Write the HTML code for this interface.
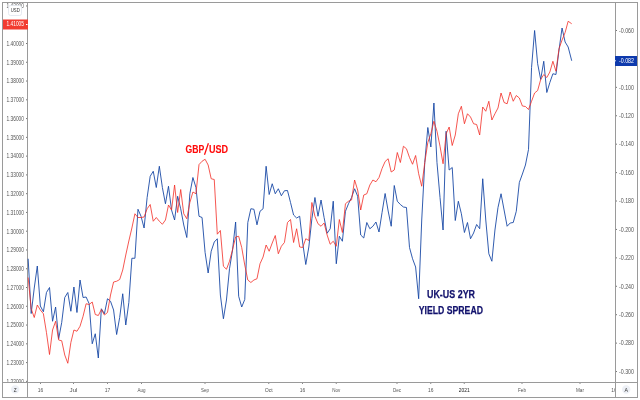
<!DOCTYPE html><html><head><meta charset="utf-8"><title>chart</title>
<style>html,body{margin:0;padding:0;background:#fff;}svg{display:block;will-change:transform}text{font-family:"Liberation Sans",sans-serif;}</style></head><body>
<svg width="640" height="400" viewBox="0 0 640 400">
<rect width="640" height="400" fill="#fff"/>
<text x="6.5" y="8.26" font-size="6.6" fill="#555" textLength="17.5" lengthAdjust="spacingAndGlyphs">1.42000</text>
<rect x="26" y="5.46" width="1" height="1" fill="#777"/>
<text x="6.5" y="27.03" font-size="6.6" fill="#555" textLength="17.5" lengthAdjust="spacingAndGlyphs">1.41000</text>
<rect x="26" y="24.23" width="1" height="1" fill="#777"/>
<text x="6.5" y="45.80" font-size="6.6" fill="#555" textLength="17.5" lengthAdjust="spacingAndGlyphs">1.40000</text>
<rect x="26" y="43.00" width="1" height="1" fill="#777"/>
<text x="6.5" y="64.57" font-size="6.6" fill="#555" textLength="17.5" lengthAdjust="spacingAndGlyphs">1.39000</text>
<rect x="26" y="61.77" width="1" height="1" fill="#777"/>
<text x="6.5" y="83.34" font-size="6.6" fill="#555" textLength="17.5" lengthAdjust="spacingAndGlyphs">1.38000</text>
<rect x="26" y="80.54" width="1" height="1" fill="#777"/>
<text x="6.5" y="102.11" font-size="6.6" fill="#555" textLength="17.5" lengthAdjust="spacingAndGlyphs">1.37000</text>
<rect x="26" y="99.31" width="1" height="1" fill="#777"/>
<text x="6.5" y="120.88" font-size="6.6" fill="#555" textLength="17.5" lengthAdjust="spacingAndGlyphs">1.36000</text>
<rect x="26" y="118.08" width="1" height="1" fill="#777"/>
<text x="6.5" y="139.65" font-size="6.6" fill="#555" textLength="17.5" lengthAdjust="spacingAndGlyphs">1.35000</text>
<rect x="26" y="136.85" width="1" height="1" fill="#777"/>
<text x="6.5" y="158.42" font-size="6.6" fill="#555" textLength="17.5" lengthAdjust="spacingAndGlyphs">1.34000</text>
<rect x="26" y="155.62" width="1" height="1" fill="#777"/>
<text x="6.5" y="177.19" font-size="6.6" fill="#555" textLength="17.5" lengthAdjust="spacingAndGlyphs">1.33000</text>
<rect x="26" y="174.39" width="1" height="1" fill="#777"/>
<text x="6.5" y="195.96" font-size="6.6" fill="#555" textLength="17.5" lengthAdjust="spacingAndGlyphs">1.32000</text>
<rect x="26" y="193.16" width="1" height="1" fill="#777"/>
<text x="6.5" y="214.73" font-size="6.6" fill="#555" textLength="17.5" lengthAdjust="spacingAndGlyphs">1.31000</text>
<rect x="26" y="211.93" width="1" height="1" fill="#777"/>
<text x="6.5" y="233.50" font-size="6.6" fill="#555" textLength="17.5" lengthAdjust="spacingAndGlyphs">1.30000</text>
<rect x="26" y="230.70" width="1" height="1" fill="#777"/>
<text x="6.5" y="252.27" font-size="6.6" fill="#555" textLength="17.5" lengthAdjust="spacingAndGlyphs">1.29000</text>
<rect x="26" y="249.47" width="1" height="1" fill="#777"/>
<text x="6.5" y="271.04" font-size="6.6" fill="#555" textLength="17.5" lengthAdjust="spacingAndGlyphs">1.28000</text>
<rect x="26" y="268.24" width="1" height="1" fill="#777"/>
<text x="6.5" y="289.81" font-size="6.6" fill="#555" textLength="17.5" lengthAdjust="spacingAndGlyphs">1.27000</text>
<rect x="26" y="287.01" width="1" height="1" fill="#777"/>
<text x="6.5" y="308.58" font-size="6.6" fill="#555" textLength="17.5" lengthAdjust="spacingAndGlyphs">1.26000</text>
<rect x="26" y="305.78" width="1" height="1" fill="#777"/>
<text x="6.5" y="327.35" font-size="6.6" fill="#555" textLength="17.5" lengthAdjust="spacingAndGlyphs">1.25000</text>
<rect x="26" y="324.55" width="1" height="1" fill="#777"/>
<text x="6.5" y="346.12" font-size="6.6" fill="#555" textLength="17.5" lengthAdjust="spacingAndGlyphs">1.24000</text>
<rect x="26" y="343.32" width="1" height="1" fill="#777"/>
<text x="6.5" y="364.89" font-size="6.6" fill="#555" textLength="17.5" lengthAdjust="spacingAndGlyphs">1.23000</text>
<rect x="26" y="362.09" width="1" height="1" fill="#777"/>
<text x="6.5" y="383.66" font-size="6.6" fill="#555" textLength="17.5" lengthAdjust="spacingAndGlyphs">1.22000</text>
<rect x="26" y="380.86" width="1" height="1" fill="#777"/>
<text x="619" y="32.80" font-size="6.6" fill="#555" textLength="15" lengthAdjust="spacingAndGlyphs">-0.060</text>
<rect x="616" y="30.00" width="1" height="1" fill="#777"/>
<text x="619" y="61.22" font-size="6.6" fill="#555" textLength="15" lengthAdjust="spacingAndGlyphs">-0.080</text>
<rect x="616" y="58.42" width="1" height="1" fill="#777"/>
<text x="619" y="89.64" font-size="6.6" fill="#555" textLength="15" lengthAdjust="spacingAndGlyphs">-0.100</text>
<rect x="616" y="86.84" width="1" height="1" fill="#777"/>
<text x="619" y="118.06" font-size="6.6" fill="#555" textLength="15" lengthAdjust="spacingAndGlyphs">-0.120</text>
<rect x="616" y="115.26" width="1" height="1" fill="#777"/>
<text x="619" y="146.48" font-size="6.6" fill="#555" textLength="15" lengthAdjust="spacingAndGlyphs">-0.140</text>
<rect x="616" y="143.68" width="1" height="1" fill="#777"/>
<text x="619" y="174.90" font-size="6.6" fill="#555" textLength="15" lengthAdjust="spacingAndGlyphs">-0.160</text>
<rect x="616" y="172.10" width="1" height="1" fill="#777"/>
<text x="619" y="203.32" font-size="6.6" fill="#555" textLength="15" lengthAdjust="spacingAndGlyphs">-0.180</text>
<rect x="616" y="200.52" width="1" height="1" fill="#777"/>
<text x="619" y="231.74" font-size="6.6" fill="#555" textLength="15" lengthAdjust="spacingAndGlyphs">-0.200</text>
<rect x="616" y="228.94" width="1" height="1" fill="#777"/>
<text x="619" y="260.16" font-size="6.6" fill="#555" textLength="15" lengthAdjust="spacingAndGlyphs">-0.220</text>
<rect x="616" y="257.36" width="1" height="1" fill="#777"/>
<text x="619" y="288.58" font-size="6.6" fill="#555" textLength="15" lengthAdjust="spacingAndGlyphs">-0.240</text>
<rect x="616" y="285.78" width="1" height="1" fill="#777"/>
<text x="619" y="317.00" font-size="6.6" fill="#555" textLength="15" lengthAdjust="spacingAndGlyphs">-0.260</text>
<rect x="616" y="314.20" width="1" height="1" fill="#777"/>
<text x="619" y="345.42" font-size="6.6" fill="#555" textLength="15" lengthAdjust="spacingAndGlyphs">-0.280</text>
<rect x="616" y="342.62" width="1" height="1" fill="#777"/>
<text x="619" y="373.84" font-size="6.6" fill="#555" textLength="15" lengthAdjust="spacingAndGlyphs">-0.300</text>
<rect x="616" y="371.04" width="1" height="1" fill="#777"/>
<rect x="3" y="383" width="634" height="14" fill="#fff"/>
<rect x="8.5" y="5.5" width="13" height="10" rx="2" fill="#fff" stroke="#dfe5ee" stroke-width="0.8"/>
<text x="10.8" y="11.8" font-size="5.5" fill="#333" textLength="9" lengthAdjust="spacingAndGlyphs">USD</text>
<g fill="#9a9a9a">
<rect x="2" y="2" width="636" height="1"/>
<rect x="2" y="2" width="1" height="396"/>
<rect x="637" y="2" width="1" height="396"/>
<rect x="2" y="397" width="636" height="1"/>
<rect x="27" y="2" width="1" height="396"/>
<rect x="615" y="2" width="1" height="396"/>
<rect x="2" y="382" width="636" height="1"/>
</g>
<rect x="3" y="19.5" width="25" height="10" fill="#f23b30"/>
<text x="6.5" y="26.4" font-size="6.3" fill="#fff" textLength="17.5" lengthAdjust="spacingAndGlyphs">1.41005</text>
<rect x="26" y="24" width="1.5" height="1" fill="#fff"/>
<rect x="615" y="56" width="22" height="10" fill="#0e3aad"/>
<rect x="614.5" y="60.3" width="1.5" height="1" fill="#dfe6f7"/>
<text x="619" y="63" font-size="6.3" fill="#fff" textLength="15" lengthAdjust="spacingAndGlyphs">-0.082</text>
<text x="37.75" y="392" font-size="6" fill="#555" textLength="5.5" lengthAdjust="spacingAndGlyphs">16</text>
<rect x="40.00" y="383" width="1" height="1" fill="#8a8a8a"/>
<text x="69.50" y="392" font-size="6" fill="#555" textLength="8" lengthAdjust="spacingAndGlyphs">Jul</text>
<rect x="73.00" y="383" width="1" height="1" fill="#8a8a8a"/>
<text x="104.75" y="392" font-size="6" fill="#555" textLength="5.5" lengthAdjust="spacingAndGlyphs">17</text>
<rect x="107.00" y="383" width="1" height="1" fill="#8a8a8a"/>
<text x="137.50" y="392" font-size="6" fill="#555" textLength="8" lengthAdjust="spacingAndGlyphs">Aug</text>
<rect x="141.00" y="383" width="1" height="1" fill="#8a8a8a"/>
<text x="201.00" y="392" font-size="6" fill="#555" textLength="8" lengthAdjust="spacingAndGlyphs">Sep</text>
<rect x="204.50" y="383" width="1" height="1" fill="#8a8a8a"/>
<text x="264.75" y="392" font-size="6" fill="#555" textLength="8" lengthAdjust="spacingAndGlyphs">Oct</text>
<rect x="268.25" y="383" width="1" height="1" fill="#8a8a8a"/>
<text x="299.75" y="392" font-size="6" fill="#555" textLength="5.5" lengthAdjust="spacingAndGlyphs">16</text>
<rect x="302.00" y="383" width="1" height="1" fill="#8a8a8a"/>
<text x="332.25" y="392" font-size="6" fill="#555" textLength="8" lengthAdjust="spacingAndGlyphs">Nov</text>
<rect x="335.75" y="383" width="1" height="1" fill="#8a8a8a"/>
<text x="393.00" y="392" font-size="6" fill="#555" textLength="8" lengthAdjust="spacingAndGlyphs">Dec</text>
<rect x="396.50" y="383" width="1" height="1" fill="#8a8a8a"/>
<text x="428.00" y="392" font-size="6" fill="#555" textLength="5.5" lengthAdjust="spacingAndGlyphs">16</text>
<rect x="430.25" y="383" width="1" height="1" fill="#8a8a8a"/>
<text x="458.75" y="392" font-size="6" fill="#222" textLength="11" lengthAdjust="spacingAndGlyphs">2021</text>
<rect x="463.75" y="383" width="1" height="1" fill="#8a8a8a"/>
<text x="518.00" y="392" font-size="6" fill="#555" textLength="8" lengthAdjust="spacingAndGlyphs">Feb</text>
<rect x="521.50" y="383" width="1" height="1" fill="#8a8a8a"/>
<text x="576.00" y="392" font-size="6" fill="#555" textLength="8" lengthAdjust="spacingAndGlyphs">Mar</text>
<rect x="579.50" y="383" width="1" height="1" fill="#8a8a8a"/>
<svg x="600" y="383" width="15" height="14" viewBox="600 383 15 14"><text x="611.3" y="392" font-size="6" fill="#555" textLength="5.5" lengthAdjust="spacingAndGlyphs">16</text></svg>
<circle cx="15.2" cy="389.4" r="4.2" fill="#edf0f6"/>
<text x="13.8" y="391.6" font-size="6.2" fill="#333" textLength="2.9" lengthAdjust="spacingAndGlyphs">Z</text>
<circle cx="626.2" cy="389.5" r="4.2" fill="#edf0f6"/>
<text x="624.5" y="391.7" font-size="6.2" fill="#333" textLength="3.5" lengthAdjust="spacingAndGlyphs">A</text>
<polyline fill="none" stroke="#1445a4" stroke-width="0.88" stroke-linejoin="round" points="28.15,258.75 31.2,313.5 34.25,288 37.3,266 40.35,306 43.4,311.75 46.46,292.5 49.51,287.5 52.56,321.25 55.61,307 58.66,338.75 61.71,322.5 64.76,297.5 67.81,292.5 70.86,311.25 73.91,287 76.96,312.5 80.02,280 83.07,297.5 86.12,297 89.17,303.75 92.22,343.75 95.27,333.75 98.32,358 101.37,308.75 104.42,313.75 107.47,298.75 110.52,301.25 113.58,310 116.63,334.5 119.68,317.5 122.73,293.75 125.78,325 128.83,302.5 131.88,258.25 134.93,258.25 137.98,209.25 141.03,216.25 144.08,228 147.14,197.5 150.19,176.25 153.24,171.25 156.29,187.5 159.34,166.25 162.39,187.5 165.44,203.75 168.49,186.25 171.54,210 174.59,220 177.64,196.25 180.69,208.75 183.75,225 186.8,237.5 189.85,193.75 192.9,177.5 195.95,187.5 199,216.25 202.05,217.5 205.1,252.5 208.15,273 211.2,251.25 214.25,242 217.31,238.75 220.36,295 223.41,318.75 226.46,300 229.51,268.75 232.56,250 235.61,222 238.66,296.25 241.71,307 244.76,299.5 247.81,222.5 250.87,208.75 253.92,209.25 256.97,224.8 260.02,211.25 263.07,208.75 266.12,166.25 269.17,194.5 272.22,183.75 275.27,193.75 278.32,188.75 281.37,195.75 284.43,190.75 287.48,190.5 290.53,202.5 293.58,215 296.63,218 299.68,216.25 302.73,243 305.78,264.5 308.83,247 311.88,218.75 314.93,197.5 317.99,216.25 321.04,200 324.09,217.5 327.14,233.25 330.19,228.75 333.24,201.2 336.29,263.75 339.34,236.25 342.39,241.25 345.44,211.25 348.49,203.75 351.55,197.5 354.6,188.75 357.65,196.25 360.7,235 363.75,238 366.8,222.5 369.85,228.75 372.9,226.25 375.95,222 379,232 382.05,212.5 385.11,193.5 388.16,211 391.21,226.25 394.26,185.5 397.31,201.25 400.36,204.5 403.41,207 406.46,207.5 409.51,247.5 412.56,258.75 415.61,267 418.67,298.75 421.72,220 424.77,162.5 427.82,127.5 430.87,147 433.92,103 436.97,162.5 440.02,197.5 443.07,230 446.12,131.25 449.17,170 452.23,167.5 455.28,220.5 458.33,201.25 461.38,213.75 464.43,232.5 467.48,222.5 470.53,238.75 473.58,233 476.63,224.5 479.68,228.75 482.73,178.75 485.78,220 488.84,253.75 491.89,261.25 494.94,230 497.99,207.5 501.04,193.75 504.09,210 507.14,226.25 510.19,223 513.24,222.5 516.29,211.25 519.34,182.5 522.4,174 525.45,165 528.5,149.5 531.55,67.5 534.6,30.5 537.65,63.75 540.7,79.5 543.75,61.25 546.8,92.5 549.85,82.5 552.9,73.75 555.96,74.5 559.01,50 562.06,28 565.11,42 568.16,47 571.71,60.75"/>
<polyline fill="none" stroke="#f32c24" stroke-width="0.8" stroke-linejoin="round" points="28.15,277.5 31.2,308.75 34.25,317.5 37.3,305 40.35,310 43.4,313.75 46.46,332.5 49.51,354.5 52.56,330 55.61,321.25 58.66,340 61.71,340.75 64.76,355 67.81,363.25 70.86,342.5 73.91,330 76.96,331.25 80.02,326.25 83.07,316.25 86.12,303.75 89.17,304.5 92.22,302 95.27,314.5 98.32,315.5 101.37,309.5 104.42,315 107.47,312.5 110.52,295 113.58,282 116.63,281.25 119.68,279.5 122.73,270 125.78,255 128.83,241 131.88,228 134.93,213.75 137.98,217.5 141.03,217.5 144.08,217 147.14,208.75 150.19,204.5 153.24,221.25 156.29,217.5 159.34,221.25 162.39,224.25 165.44,220 168.49,205 171.54,210 174.59,185 177.64,212.5 180.69,189.5 183.75,213.75 186.8,218.75 189.85,202.5 192.9,192 195.95,193.75 199,164.6 202.05,161.25 205.1,159.25 208.15,165 211.2,178.75 214.25,179.5 217.31,234.2 220.36,230.5 223.41,266.25 226.46,269.25 229.51,261.25 232.56,249.5 235.61,237 238.66,236.25 241.71,247.5 244.76,265 247.81,280 250.87,282.5 253.92,280 256.97,278.75 260.02,263.75 263.07,257 266.12,245 269.17,251.25 272.22,243 275.27,235.5 278.32,253.75 281.37,246.25 284.43,242.5 287.48,222.5 290.53,219.5 293.58,242.5 296.63,228.75 299.68,247 302.73,247.5 305.78,238.75 308.83,240.5 311.88,202.5 314.93,216.25 317.99,223.75 321.04,226.25 324.09,223 327.14,235 330.19,244.25 333.24,241.25 336.29,246.25 339.34,219.5 342.39,232.5 345.44,203.75 348.49,201.25 351.55,200 354.6,180 357.65,190 360.7,210 363.75,195 366.8,193.75 369.85,185 372.9,180 375.95,181.75 379,177.5 382.05,168.5 385.11,161.5 388.16,158.75 391.21,172 394.26,170 397.31,152.5 400.36,162.5 403.41,146.25 406.46,148.75 409.51,157.5 412.56,164.25 415.61,155.5 418.67,173.75 421.72,186.25 424.77,162.5 427.82,142.5 430.87,133.75 433.92,121.25 436.97,131.25 440.02,146.25 443.07,163.75 446.12,133.75 449.17,127 452.23,145.5 455.28,135 458.33,113.75 461.38,106.25 464.43,123.75 467.48,113.75 470.53,117 473.58,123.75 476.63,124.5 479.68,135 482.73,107 485.78,111.25 488.84,101.25 491.89,120 494.94,113.75 497.99,108 501.04,93 504.09,102.5 507.14,103.75 510.19,92 513.24,101.25 516.29,95.5 519.34,98 522.4,106 525.45,106.5 528.5,109.5 531.55,101.25 534.6,93 537.65,90.5 540.7,79.5 543.75,74.5 546.8,77.5 549.85,72 552.9,61.25 555.96,71.25 559.01,48.75 562.06,40 565.11,32.5 568.16,21.25 571.71,23.75"/>
<g font-size="11" font-weight="bold" fill="#ff0a0a" stroke="#ff0a0a" stroke-width="0.12">
<text x="185.6" y="153" textLength="18.7" lengthAdjust="spacingAndGlyphs">GBP</text>
<text x="209.0" y="153" textLength="19.1" lengthAdjust="spacingAndGlyphs">USD</text>
</g>
<line x1="204.5" y1="154.8" x2="208.4" y2="143.2" stroke="#ff0a0a" stroke-width="1.25"/>
<g font-size="11.5" font-weight="bold" fill="#11116c" stroke="#11116c" stroke-width="0.25">
<text x="427" y="298.3" textLength="48" lengthAdjust="spacingAndGlyphs">UK-US 2YR</text>
<text x="418.75" y="314.3" textLength="64.2" lengthAdjust="spacingAndGlyphs">YIELD SPREAD</text>
</g>
</svg></body></html>
